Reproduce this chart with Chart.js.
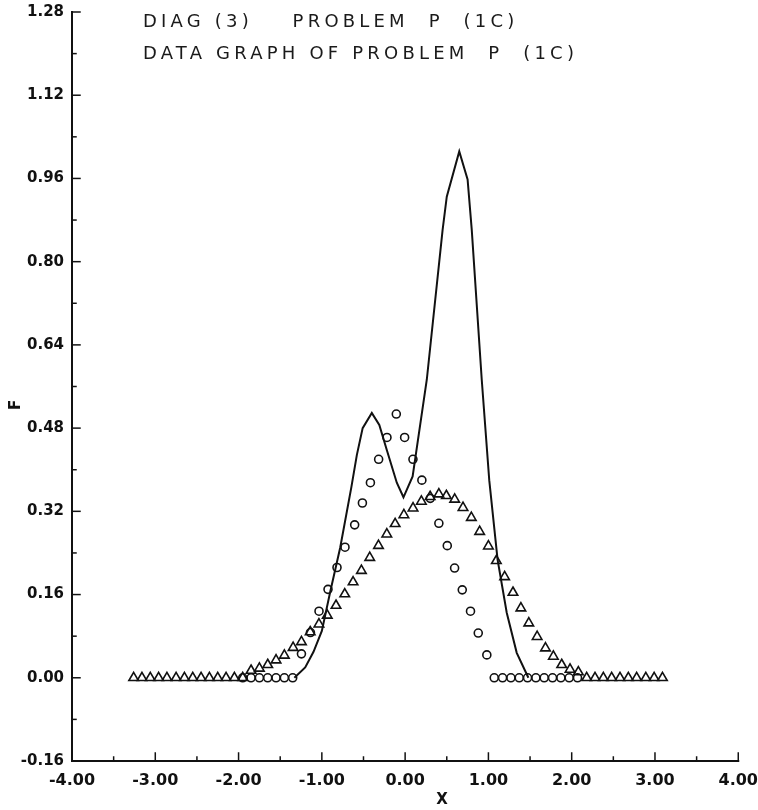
<!DOCTYPE html>
<html>
<head>
<meta charset="utf-8">
<script src="https://cdn.jsdelivr.net/npm/chart.js@4/dist/chart.umd.min.js"></script>
<style>
  html, body { margin: 0; padding: 0; background: #fff; }
  #wrap { width: 758px; height: 810px; }
</style>
</head>
<body>
<div id="wrap"><canvas id="c" width="758" height="810"></canvas></div>
<script>
// Axis ticks
const xTicks = [-4, -3, -2, -1, 0, 1, 2, 3, 4];
const yTicks = [-0.16, 0, 0.16, 0.32, 0.48, 0.64, 0.80, 0.96, 1.12, 1.28];

// Heading and axis names
const titleLines = ['DIAG (3)    PROBLEM  P  (1C)', 'DATA GRAPH OF PROBLEM  P  (1C)'];
const xName = 'X';
const yName = 'F';

// Solid curve
const curveX = [-1.33, -1.20, -1.10, -1.00, -0.90, -0.78, -0.645, -0.58, -0.51, -0.40, -0.31, -0.22, -0.10, -0.02, 0.09, 0.26, 0.45, 0.50, 0.65, 0.75, 0.80, 0.92, 1.01, 1.11, 1.22, 1.34, 1.48];
const curveY = [0.000, 0.020, 0.050, 0.090, 0.165, 0.250, 0.367, 0.428, 0.480, 0.509, 0.486, 0.438, 0.375, 0.347, 0.387, 0.573, 0.861, 0.925, 1.012, 0.958, 0.861, 0.573, 0.380, 0.227, 0.125, 0.048, 0.000];

// Circle markers
const circX = [-1.95, -1.85, -1.75, -1.65, -1.55, -1.45, -1.35,
  -1.245, -1.137, -1.034, -0.926, -0.818, -0.722, -0.606, -0.513, -0.417, -0.318, -0.218, -0.106,
  -0.006, 0.094, 0.201, 0.302, 0.405, 0.506, 0.594, 0.686, 0.785, 0.878, 0.981,
  1.07, 1.17, 1.27, 1.37, 1.47, 1.57, 1.67, 1.77, 1.87, 1.97, 2.07];
const circY = [0, 0, 0, 0, 0, 0, 0,
  0.046, 0.087, 0.128, 0.170, 0.212, 0.251, 0.294, 0.336, 0.375, 0.420, 0.462, 0.507,
  0.462, 0.420, 0.380, 0.345, 0.297, 0.254, 0.211, 0.169, 0.128, 0.086, 0.044,
  0, 0, 0, 0, 0, 0, 0, 0, 0, 0, 0];

// Triangle markers
const triX = [-3.26, -3.16, -3.06, -2.96, -2.86, -2.75, -2.65, -2.55, -2.45, -2.35, -2.25, -2.15, -2.05, -1.95,
  -1.85, -1.75, -1.65, -1.55, -1.45, -1.345, -1.245, -1.14, -1.035, -0.935, -0.83, -0.725, -0.625, -0.525,
  -0.425, -0.32, -0.22, -0.12, -0.015, 0.095, 0.195, 0.30, 0.405, 0.495, 0.595, 0.695, 0.795, 0.895,
  1.00, 1.095, 1.195, 1.295, 1.39, 1.485, 1.585, 1.685, 1.78, 1.88, 1.98, 2.08,
  2.18, 2.28, 2.38, 2.48, 2.58, 2.68, 2.78, 2.89, 2.99, 3.09];
const triY = [0, 0, 0, 0, 0, 0, 0, 0, 0, 0, 0, 0, 0, 0,
  0.014, 0.018, 0.025, 0.034, 0.043, 0.058, 0.069, 0.088, 0.103, 0.120, 0.139, 0.161, 0.184, 0.206,
  0.231, 0.254, 0.276, 0.296, 0.313, 0.326, 0.339, 0.348, 0.353, 0.350, 0.343, 0.327, 0.308, 0.281,
  0.253, 0.225, 0.194, 0.164, 0.134, 0.105, 0.079, 0.057, 0.041, 0.025, 0.016, 0.011,
  0, 0, 0, 0, 0, 0, 0, 0, 0, 0];

const INK = '#111';
const pts = (xs, ys) => xs.map((v, i) => ({ x: v, y: ys[i] }));

// Inward tick marks, axis lines, heading and axis names
const decor = {
  id: 'decor',
  afterDraw(chart) {
    const { ctx, chartArea: a, scales: { x, y } } = chart;
    const seg = (x1, y1, x2, y2) => { ctx.beginPath(); ctx.moveTo(x1, y1); ctx.lineTo(x2, y2); ctx.stroke(); };
    ctx.save();
    ctx.strokeStyle = INK;
    ctx.lineCap = 'square';
    ctx.lineWidth = 2;
    ctx.beginPath();
    ctx.moveTo(a.left, a.top);
    ctx.lineTo(a.left, a.bottom);
    ctx.lineTo(a.right, a.bottom);
    ctx.stroke();

    ctx.lineWidth = 1.5;
    yTicks.forEach((v, i) => {
      const py = y.getPixelForValue(v);
      seg(a.left, py, a.left + 8, py);
      if (i < yTicks.length - 1) {
        const pm = y.getPixelForValue((v + yTicks[i + 1]) / 2);
        seg(a.left, pm, a.left + 4, pm);
      }
    });
    xTicks.forEach((v, i) => {
      const px = x.getPixelForValue(v);
      seg(px, a.bottom, px, a.bottom - 8);
      if (i < xTicks.length - 1) {
        const pm = x.getPixelForValue((v + xTicks[i + 1]) / 2);
        seg(pm, a.bottom, pm, a.bottom - 4);
      }
    });

    ctx.fillStyle = '#1a1a1a';
    ctx.font = '18px "DejaVu Sans"';
    ctx.textAlign = 'left';
    ctx.textBaseline = 'alphabetic';
    if ('letterSpacing' in ctx) ctx.letterSpacing = '4.2px';
    ctx.fillText(titleLines[0], 143, 27);
    ctx.fillText(titleLines[1], 143, 59);
    if ('letterSpacing' in ctx) ctx.letterSpacing = '0px';

    ctx.fillStyle = INK;
    ctx.font = 'bold 15px "DejaVu Sans"';
    ctx.textAlign = 'center';
    ctx.textBaseline = 'middle';
    ctx.fillText(xName, 442, 800);
    ctx.translate(16, 405);
    ctx.rotate(-Math.PI / 2);
    ctx.fillText(yName, 0, 0);
    ctx.restore();
  }
};

new Chart(document.getElementById('c'), {
  type: 'scatter',
  data: {
    datasets: [
      {
        data: pts(curveX, curveY), showLine: true, borderColor: INK, borderWidth: 2,
        pointRadius: 0, tension: 0, fill: false
      },
      {
        data: pts(circX, circY), showLine: false, pointStyle: 'circle', pointRadius: 4,
        borderColor: INK, borderWidth: 1.6, backgroundColor: 'rgba(0,0,0,0)'
      },
      {
        data: pts(triX, triY), showLine: false, pointStyle: 'triangle', pointRadius: 5.5,
        borderColor: INK, borderWidth: 1.6, backgroundColor: 'rgba(0,0,0,0)'
      }
    ]
  },
  options: {
    responsive: false,
    animation: false,
    events: [],
    layout: { padding: { top: 12, right: 19, left: 0, bottom: 0 } },
    plugins: { legend: { display: false }, tooltip: { enabled: false }, title: { display: false } },
    scales: {
      x: {
        type: 'linear', min: -4, max: 4,
        afterBuildTicks: s => { s.ticks = xTicks.map(v => ({ value: v })); },
        afterFit: s => { s.height = 49; },
        grid: { display: false, drawTicks: true, tickLength: 10 },
        border: { display: false },
        ticks: {
          callback: v => Number(v).toFixed(2), color: INK, padding: 0, maxRotation: 0, autoSkip: false,
          font: { family: 'DejaVu Sans', size: 16, weight: 'bold' }
        }
      },
      y: {
        type: 'linear', min: -0.16, max: 1.28,
        afterBuildTicks: s => { s.ticks = yTicks.map(v => ({ value: v })); },
        afterFit: s => { s.width = 72; },
        grid: { display: false, drawTicks: true, tickLength: 8 },
        border: { display: false },
        ticks: {
          callback: v => Number(v).toFixed(2), color: INK, padding: 0, autoSkip: false,
          font: { family: 'DejaVu Sans', size: 15, weight: 'bold' }
        }
      }
    }
  },
  plugins: [decor]
});
</script>
</body>
</html>
